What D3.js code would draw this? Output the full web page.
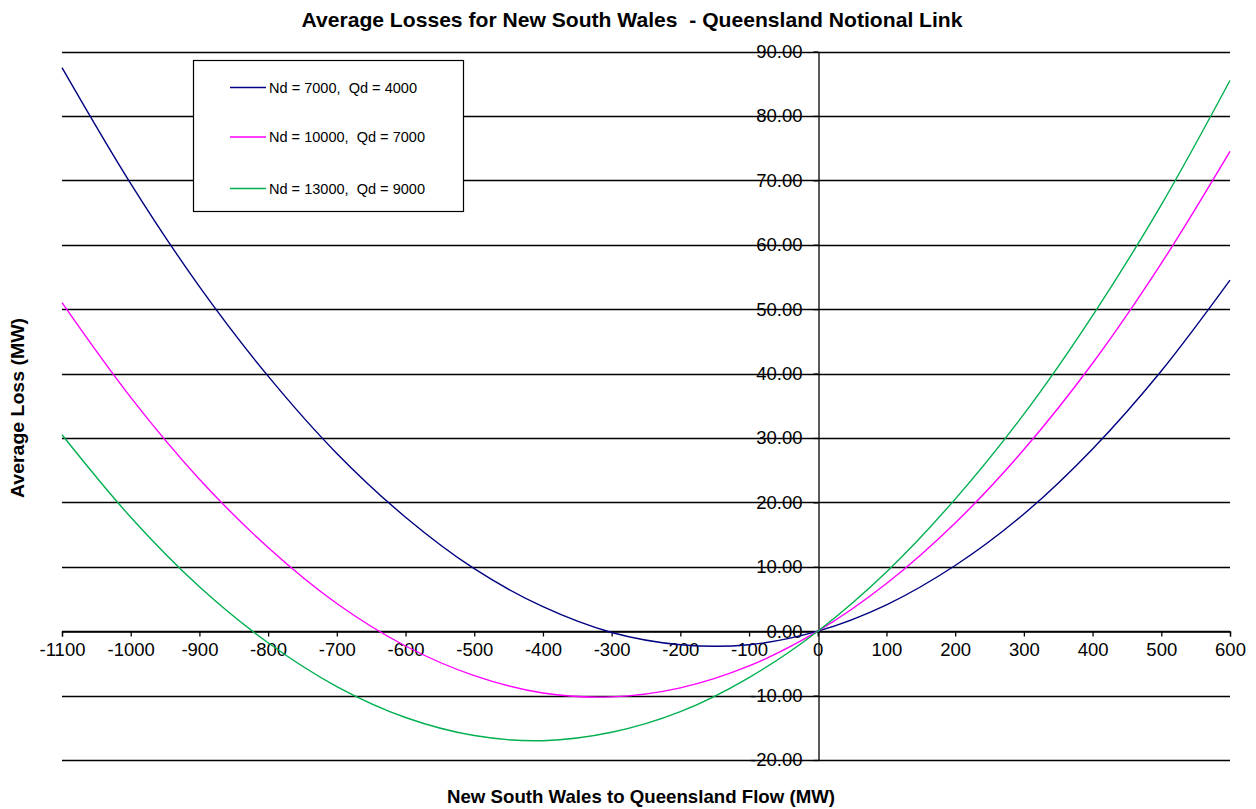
<!DOCTYPE html>
<html>
<head>
<meta charset="utf-8">
<script src="https://cdn.jsdelivr.net/npm/d3@7"></script>
<style>
  html, body { margin: 0; padding: 0; background: #fff; }
  svg { display: block; }
  text { font-family: "Liberation Sans", Arial, sans-serif; fill: #000; white-space: pre; }
</style>
</head>
<body>
<svg id="chart" width="1256" height="809"></svg>
<script>
// ---- data ----
const flows = [-1100, -1000, -900, -800, -700, -600, -500, -400, -300, -200, -100, 0, 100, 200, 300, 400, 500, 600];
const seriesNames = ["Nd = 7000,  Qd = 4000", "Nd = 10000,  Qd = 7000", "Nd = 13000,  Qd = 9000"];
const seriesColors = ["#000080", "#FF00FF", "#00B050"];
const loss7000 = [87.5, 69.5, 53.5, 39.6, 27.6, 17.7, 9.7, 3.8, -0.2, -2.1, -2.1, 0, 4.1, 10.2, 18.2, 28.3, 40.4, 54.5];
const loss10000 = [51.0, 36.3, 23.6, 13.0, 4.3, -2.3, -6.9, -9.6, -10.2, -8.8, -5.4, 0, 7.4, 16.8, 28.2, 41.6, 57.1, 74.5];
const loss13000 = [30.5, 17.7, 6.9, -1.8, -8.6, -13.4, -16.2, -17.0, -15.7, -12.5, -7.2, 0, 9.2, 20.5, 33.7, 49.0, 66.2, 85.5];
const xTickValues = [-1100, -1000, -900, -800, -700, -600, -500, -400, -300, -200, -100, 0, 100, 200, 300, 400, 500, 600];
const yTickValues = [-20, -10, 0, 10, 20, 30, 40, 50, 60, 70, 80, 90];
const titleText = "Average Losses for New South Wales  - Queensland Notional Link";
const xTitleText = "New South Wales to Queensland Flow (MW)";
const yTitleText = "Average Loss (MW)";

const series = [loss7000, loss10000, loss13000].map((vals, i) => ({
  name: seriesNames[i], color: seriesColors[i],
  points: flows.map((f, j) => ({ x: f, y: vals[j] }))
}));

// ---- layout ----
const svg = d3.select("#chart");
const plotL = 62, plotR = 1230, plotT = 51.5, plotB = 760;
const x = d3.scaleLinear().domain([-1100, 600]).range([plotL, plotR]);
const y = d3.scaleLinear().domain([-20, 90]).range([plotB, plotT]);
const loc = d3.formatLocale({ decimal: ".", thousands: ",", grouping: [3], currency: ["$", ""], minus: "-" });

// gridlines
svg.append("g").selectAll("line").data(yTickValues).join("line")
  .attr("x1", plotL).attr("x2", plotR)
  .attr("y1", d => Math.round(y(d)) + 0.5).attr("y2", d => Math.round(y(d)) + 0.5)
  .attr("stroke", "#000").attr("stroke-width", 1.3);

// y axis at x = 0
const yAxis = d3.axisLeft(y).tickValues(yTickValues).tickFormat(loc.format(".2f"))
  .tickSize(5).tickSizeOuter(0).tickPadding(11);
const gy = svg.append("g").attr("transform", `translate(${Math.round(x(0)) + 0.5},0)`).call(yAxis);
gy.select(".domain").attr("stroke", "#000").attr("stroke-width", 1.3);
gy.selectAll(".tick line").attr("stroke", "#000").attr("stroke-width", 1.3);
gy.selectAll(".tick text").attr("font-size", 18.5).attr("font-family", "Liberation Sans, Arial, sans-serif").attr("fill", "#000");

// x axis at y = 0
const xAxis = d3.axisBottom(x).tickValues(xTickValues).tickFormat(loc.format("d"))
  .tickSize(5).tickSizeOuter(5).tickPadding(6);
const gx = svg.append("g").attr("transform", `translate(0,${Math.round(y(0)) + 0.5})`).call(xAxis);
gx.select(".domain").attr("stroke", "#000").attr("stroke-width", 1.3);
gx.selectAll(".tick line").attr("stroke", "#000").attr("stroke-width", 1.3);
gx.selectAll(".tick text").attr("font-size", 18.5).attr("font-family", "Liberation Sans, Arial, sans-serif").attr("fill", "#000");

// curves
const line = d3.line().x(d => x(d.x)).y(d => y(d.y)).curve(d3.curveCatmullRom.alpha(0.5));
svg.append("g").selectAll("path").data(series).join("path")
  .attr("d", d => line(d.points))
  .attr("fill", "none").attr("stroke", d => d.color).attr("stroke-width", 1.4);

// legend
const lg = svg.append("g");
lg.append("rect").attr("x", 193.5).attr("y", 60.5).attr("width", 270).attr("height", 151)
  .attr("fill", "#fff").attr("stroke", "#000").attr("stroke-width", 1.2);
const legendY = [87.5, 137, 188.5];
series.forEach((s, i) => {
  lg.append("line").attr("x1", 230).attr("x2", 266).attr("y1", legendY[i]).attr("y2", legendY[i])
    .attr("stroke", s.color).attr("stroke-width", 1.5);
  lg.append("text").attr("x", 269).attr("y", legendY[i]).attr("dy", "0.35em")
    .attr("font-size", 15).attr("textLength", 148 + (i > 0 ? 8 : 0)).attr("lengthAdjust", "spacingAndGlyphs")
    .text(s.name);
});

// titles
svg.append("text").attr("x", 632).attr("y", 27).attr("text-anchor", "middle")
  .attr("font-size", 21).attr("font-weight", "bold")
  .attr("textLength", 661).attr("lengthAdjust", "spacingAndGlyphs").text(titleText);
svg.append("text").attr("x", 641).attr("y", 803).attr("text-anchor", "middle")
  .attr("font-size", 19).attr("font-weight", "bold")
  .attr("textLength", 388).attr("lengthAdjust", "spacingAndGlyphs").text(xTitleText);
svg.append("text").attr("transform", "translate(24,408) rotate(-90)").attr("text-anchor", "middle")
  .attr("font-size", 19).attr("font-weight", "bold")
  .attr("textLength", 180).attr("lengthAdjust", "spacingAndGlyphs").text(yTitleText);
</script>
</body>
</html>
